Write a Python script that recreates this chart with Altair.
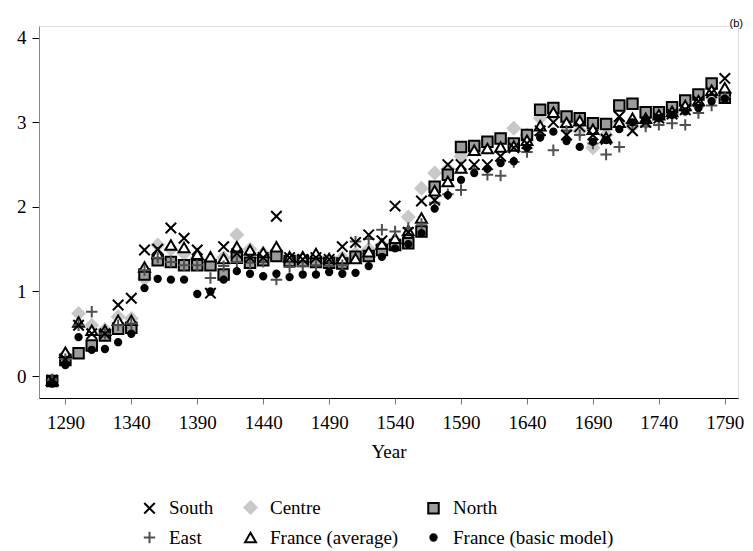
import altair as alt
import pandas as pd

years = list(range(1280, 1800, 10))

south = [-0.05, 0.20, 0.60, 0.50, 0.50, 0.84, 0.92, 1.49, 1.50, 1.75,
         1.63, 1.49, 0.98, 1.53, 1.45, 1.40, 1.40, 1.89, 1.40, 1.38,
         1.40, 1.38, 1.53, 1.58, 1.67, 1.60, 2.01, 1.70, 2.07, 2.08,
         2.50, 2.50, 2.50, 2.50, 2.60, 2.70, 2.75, 2.90, 3.00, 2.85,
         2.95, 2.85, 2.80, 3.07, 2.90, 3.00, 3.05, 3.10, 3.15, 3.25,
         3.35, 3.52]
centre = [-0.05, 0.25, 0.74, 0.60, 0.55, 0.70, 0.68, 1.15, 1.55, 1.50,
          1.45, 1.40, 1.35, 1.40, 1.67, 1.50, 1.45, 1.45, 1.38, 1.35,
          1.40, 1.35, 1.40, 1.45, 1.50, 1.55, 1.60, 1.88, 2.22, 2.40,
          2.45, 2.60, 2.70, 2.75, 2.78, 2.93, 2.85, 3.05, 3.10, 2.95,
          2.90, 2.70, 2.85, 3.00, 2.95, 3.00, 3.05, 3.10, 3.15, 3.20,
          3.30, 3.35]
north = [-0.06, 0.19, 0.27, 0.36, 0.48, 0.56, 0.57, 1.20, 1.37, 1.35,
         1.31, 1.31, 1.31, 1.20, 1.40, 1.34, 1.37, 1.42, 1.36, 1.36,
         1.35, 1.34, 1.33, 1.41, 1.42, 1.49, 1.55, 1.57, 1.71, 2.24,
         2.38, 2.71, 2.72, 2.77, 2.81, 2.75, 2.85, 3.15, 3.17, 3.07,
         3.05, 2.99, 2.98, 3.20, 3.22, 3.12, 3.12, 3.18, 3.26, 3.33,
         3.46, 3.29]
east = [-0.05, 0.20, 0.60, 0.76, 0.50, 0.60, 0.62, 1.25, 1.40, 1.35,
        1.31, 1.31, 1.16, 1.30, 1.35, 1.34, 1.35, 1.14, 1.29, 1.30,
        1.31, 1.30, 1.31, 1.59, 1.62, 1.73, 1.71, 1.75, 1.80, 2.05,
        2.15, 2.20, 2.45, 2.38, 2.37, 2.53, 2.65, 2.85, 2.67, 2.90,
        2.85, 2.75, 2.62, 2.71, 2.97, 2.95, 2.97, 2.99, 2.97, 3.11,
        3.20, 3.30]
france_avg = [-0.05, 0.28, 0.64, 0.54, 0.54, 0.66, 0.66, 1.29, 1.45, 1.55,
              1.52, 1.44, 1.41, 1.39, 1.53, 1.49, 1.46, 1.53, 1.41, 1.41,
              1.45, 1.39, 1.39, 1.39, 1.47, 1.56, 1.63, 1.72, 1.87, 2.19,
              2.30, 2.46, 2.67, 2.69, 2.71, 2.72, 2.79, 2.96, 3.12, 3.00,
              3.02, 2.92, 2.82, 3.00, 3.05, 3.05, 3.09, 3.13, 3.20, 3.26,
              3.38, 3.41]
france_basic = [-0.09, 0.13, 0.46, 0.31, 0.32, 0.40, 0.50, 1.04, 1.15, 1.14,
                1.14, 0.97, 1.00, 1.14, 1.24, 1.21, 1.18, 1.21, 1.17, 1.20,
                1.20, 1.23, 1.21, 1.22, 1.30, 1.41, 1.51, 1.56, 1.69, 1.98,
                2.14, 2.32, 2.40, 2.45, 2.52, 2.54, 2.70, 2.82, 2.89, 2.78,
                2.71, 2.77, 2.79, 2.92, 3.00, 3.03, 3.05, 3.09, 3.13, 3.17,
                3.25, 3.28]

series_names = ["South", "Centre", "North", "East", "France (average)", "France (basic model)"]
series_values = [south, centre, north, east, france_avg, france_basic]
draw_order = ["Centre", "North", "France (average)", "East", "France (basic model)", "South"]

x_ticks = list(range(1290, 1800, 50))
y_ticks = [0, 1, 2, 3, 4]

rows = []
for name, vals in zip(series_names, series_values):
    z = draw_order.index(name)
    for yr, v in zip(years, vals):
        rows.append({"year": yr, "value": v, "series": name, "z": z})
df = pd.DataFrame(rows).sort_values(["z", "year"]).reset_index(drop=True)

shapes = ["M-1,-1L1,1M-1,1L1,-1", "diamond", "square", "M-1,0L1,0M0,-1L0,1",
          "triangle-up", "circle"]
fills = ["transparent", "#c8c8c8", "#9c9c9c", "transparent", "white", "black"]
strokes = ["black", "transparent", "black", "#505050", "black", "black"]
sizes = [110, 225, 110, 130, 120, 40]

SERIF = "Liberation Serif, Times New Roman, serif"

legend = alt.Legend(
    title=None, orient="none", legendX=101, legendY=472, columns=3,
    direction="horizontal",
    columnPadding=25, rowPadding=8, labelOffset=10, padding=0,
    labelFont=SERIF, labelFontSize=19, labelColor="black", labelLimit=400,
    symbolStrokeWidth=2, symbolOpacity=1,
)

chart = alt.Chart(df).mark_point(filled=True, opacity=1, strokeWidth=2).encode(
    x=alt.X("year:Q",
            scale=alt.Scale(domain=[1270, 1800], nice=False, zero=False),
            axis=alt.Axis(values=x_ticks, format="d", title="Year", grid=False,
                          domainColor="black", tickColor="#777777", tickSize=6,
                          labelPadding=9, labelFont=SERIF, labelFontSize=19,
                          labelColor="black", titleFont=SERIF, titleFontSize=19,
                          titleFontWeight="normal", titleColor="black",
                          titlePadding=10)),
    y=alt.Y("value:Q",
            scale=alt.Scale(domain=[-0.26, 4.14], nice=False, zero=False),
            axis=alt.Axis(values=y_ticks, title=None, grid=False,
                          domainColor="#888888", tickColor="black", tickSize=7,
                          labelPadding=6, labelFont=SERIF, labelFontSize=19,
                          labelColor="black")),
    shape=alt.Shape("series:N", scale=alt.Scale(domain=series_names, range=shapes), legend=legend),
    fill=alt.Fill("series:N", scale=alt.Scale(domain=series_names, range=fills), legend=legend),
    stroke=alt.Stroke("series:N", scale=alt.Scale(domain=series_names, range=strokes), legend=legend),
    size=alt.Size("series:N", scale=alt.Scale(type="ordinal", domain=series_names, range=sizes), legend=legend),
    order=alt.Order("z:Q"),
).properties(
    width=699, height=372,
    autosize=alt.AutoSizeParams(type="none"),
    padding={"left": 31, "top": 18, "right": 7, "bottom": 158},
    title=alt.TitleParams(text="(b)", anchor="end", frame="group", fontSize=11,
                          font="Liberation Sans", fontWeight="normal",
                          baseline="alphabetic", offset=2, dx=5, dy=14, color="black"),
).configure_view(stroke=None).configure(background="white")

chart.save("out.html", embed_options={"renderer": "svg", "actions": False})
